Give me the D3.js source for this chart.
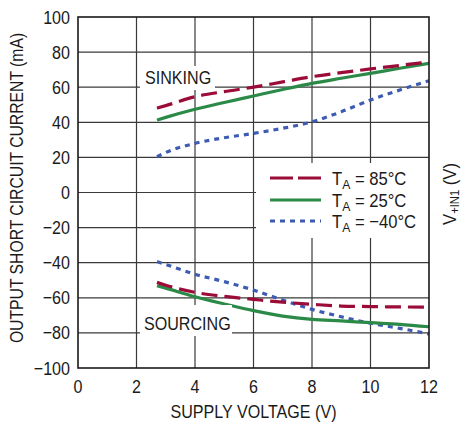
<!DOCTYPE html>
<html>
<head>
<meta charset="utf-8">
<script src="https://cdn.jsdelivr.net/npm/d3@7"></script>
<style>
  html, body { margin: 0; padding: 0; background: #fff; }
  svg text { font-family: "Liberation Sans", Arial, sans-serif; fill: #1a1a1a; }
</style>
</head>
<body>
<svg id="chart" width="462" height="422"></svg>
<script>
// Supply voltage (V) sample points
const voltage = [2.7, 3, 4, 5, 6, 7, 8, 9, 10, 11, 12];

// Sinking short-circuit current (mA)
const sink85 = [48.1, 49.5, 54.6, 57.5, 60, 63, 66, 68.3, 70.4, 72.4, 74.4];
const sink25 = [41.3, 42.8, 47.4, 51.3, 55, 58.7, 62.2, 65.1, 67.9, 70.8, 73.6];
const sinkM40 = [20.4, 22.8, 28, 31.2, 33.7, 36.6, 40.3, 46, 52.7, 58.4, 63.7];

// Sourcing short-circuit current (mA)
const source85 = [-51.2, -52.8, -56.9, -59.2, -60.9, -62.5, -63.7, -64.7, -65, -65.2, -65.4];
const source25 = [-53.1, -54.5, -59.4, -63.5, -67.3, -70.4, -72.3, -73.2, -74.2, -75.1, -76.5];
const sourceM40 = [-39.4, -41, -46.6, -50.8, -55.6, -61.3, -66.6, -70.8, -74.5, -77.4, -80.6];

const xTicks = [0, 2, 4, 6, 8, 10, 12];
const yTicks = [-100, -80, -60, -40, -20, 0, 20, 40, 60, 80, 100];

const seriesNames = ["85°C", "25°C", "\u221240°C"];
const seriesColors = ["#9b0c38", "#2c8a48", "#3d5bb2"];
const seriesDash = ["16,7", null, "5,5"];

const svg = d3.select("#chart");
const plotL = 78, plotR = 429, plotT = 17, plotB = 368;
const FS = 18.5;      // label font size
const SQ = 0.87;      // horizontal squeeze for a condensed look

const x = d3.scaleLinear().domain([0, 12]).range([plotL, plotR]);
const y = d3.scaleLinear().domain([-100, 100]).range([plotB, plotT]);

// condensed text helper
function label(parent, tx, ty, str, anchor = "start", rot = 0, sq = SQ) {
  return parent.append("text")
    .attr("transform", `translate(${tx},${ty})${rot ? ` rotate(${rot})` : ""} scale(${sq},1)`)
    .attr("text-anchor", anchor)
    .attr("font-size", FS)
    .text(str);
}

// grid
const grid = svg.append("g");
grid.selectAll("line.v").data(xTicks.slice(1, -1)).join("line")
  .attr("x1", d => x(d)).attr("x2", d => x(d))
  .attr("y1", plotT).attr("y2", plotB)
  .attr("stroke", "#3a3a3a").attr("stroke-width", 1.2);
grid.selectAll("line.h").data(yTicks.slice(1, -1)).join("line")
  .attr("x1", plotL).attr("x2", plotR)
  .attr("y1", d => y(d)).attr("y2", d => y(d))
  .attr("stroke", "#3a3a3a").attr("stroke-width", 1.2);

// curves
const line = d3.line().curve(d3.curveMonotoneX)
  .x((d, i) => x(voltage[i])).y(d => y(d));

const groups = [
  [sink85, source85],
  [sink25, source25],
  [sinkM40, sourceM40]
];
const curves = svg.append("g");
// -40°C underneath, 85°C on top
[2, 1, 0].forEach(k => {
  groups[k].forEach(arr => {
    curves.append("path")
      .attr("d", line(arr))
      .attr("fill", "none")
      .attr("stroke", seriesColors[k])
      .attr("stroke-width", 3.2)
      .attr("stroke-dasharray", seriesDash[k]);
  });
});

// region labels on white boxes
function boxedLabel(text, bx, by, bw, bh, tx, ty) {
  svg.append("rect").attr("x", bx).attr("y", by).attr("width", bw).attr("height", bh).attr("fill", "#fff");
  label(svg, tx, ty, text);
}
boxedLabel("SINKING", 140, 66, 75, 24, 145, 84);
boxedLabel("SOURCING", 140, 305, 92, 31, 144, 330);

// legend
const lg = svg.append("g");
lg.append("rect").attr("x", 256).attr("y", 163).attr("width", 173).attr("height", 75).attr("fill", "#fff");
const rowY = [178, 200, 221];
seriesNames.forEach((name, k) => {
  lg.append("line")
    .attr("x1", 270).attr("x2", 321)
    .attr("y1", rowY[k]).attr("y2", rowY[k])
    .attr("stroke", seriesColors[k]).attr("stroke-width", 3.2)
    .attr("stroke-dasharray", k === 0 ? "23,5" : seriesDash[k]);
  const t = label(lg, 332, rowY[k] + 6.5, null, "start", 0, 0.9);
  t.append("tspan").text("T");
  t.append("tspan").attr("font-size", 13.5).attr("dy", 4).text("A");
  t.append("tspan").attr("dy", -4).text(" = " + name);
});

// frame
svg.append("rect").attr("x", plotL).attr("y", plotT)
  .attr("width", plotR - plotL).attr("height", plotB - plotT)
  .attr("fill", "none").attr("stroke", "#1a1a1a").attr("stroke-width", 1.6);

// tick labels
const xl = svg.append("g");
xTicks.forEach(d => label(xl, x(d), 393, String(d), "middle"));
const yl = svg.append("g");
yTicks.forEach(d => label(yl, 70, y(d) + 6.5, d < 0 ? "\u2212" + Math.abs(d) : String(d), "end"));

// axis titles
label(svg, x(6), 418, "SUPPLY VOLTAGE (V)", "middle");
label(svg, 23, 188, "OUTPUT SHORT CIRCUIT CURRENT (mA)", "middle", -90, 0.85);

const rl = label(svg, 456, 194, null, "middle", -90, 0.9);
rl.append("tspan").text("V");
rl.append("tspan").attr("font-size", 12.5).attr("dy", 3).text("+IN1");
rl.append("tspan").attr("dy", -3).text(" (V)");
</script>
</body>
</html>
